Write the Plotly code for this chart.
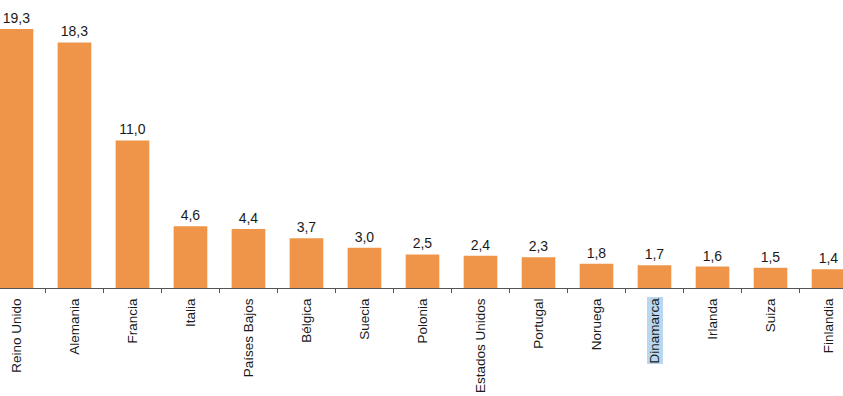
import plotly.graph_objects as go

categories = ["Reino Unido", "Alemania", "Francia", "Italia", "Países Bajos", "Bélgica",
              "Suecia", "Polonia", "Estados Unidos", "Portugal", "Noruega", "Dinamarca",
              "Irlanda", "Suiza", "Finlandia"]
values = [19.3, 18.3, 11.0, 4.6, 4.4, 3.7, 3.0, 2.5, 2.4, 2.3, 1.8, 1.7, 1.6, 1.5, 1.4]
highlighted = "Dinamarca"

labels = [f"{v:.1f}".replace(".", ",") for v in values]
ticktext = ["" if c == highlighted else c for c in categories]

fig = go.Figure(go.Bar(
    x=categories, y=values, text=labels, textposition="outside",
    textfont=dict(family="Liberation Sans, Arial", size=14, color="#1a1a1a"),
    marker=dict(color="#EE9549", line=dict(width=0)),
    width=0.58, cliponaxis=False,
))

fig.add_annotation(
    x=highlighted, y=0, xref="x", yref="y", text=highlighted, textangle=-90,
    showarrow=False, yanchor="top", xanchor="center", yshift=-8,
    font=dict(family="Liberation Sans, Arial", size=13.5, color="#1a1a1a"),
    bgcolor="#B9D7EE", borderpad=0,
)

fig.update_layout(
    width=843, height=396,
    margin=dict(l=0, r=0, t=0, b=108, autoexpand=False),
    plot_bgcolor="white", paper_bgcolor="white",
    showlegend=False,
    xaxis=dict(
        type="category", range=[-0.284, 14.25], automargin=False,
        tickmode="array", tickvals=categories, ticktext=ticktext,
        tickangle=-90, tickson="boundaries", ticks="outside", ticklen=4,
        ticklabelstandoff=4,
        tickcolor="#555555", showline=True, linecolor="#555555", linewidth=1,
        tickfont=dict(family="Liberation Sans, Arial", size=13.5, color="#1a1a1a"),
        showgrid=False, fixedrange=True,
    ),
    yaxis=dict(range=[0, 21.46], visible=False, showgrid=False, fixedrange=True,
               automargin=False),
)

fig.write_html(
    "out.html",
    config={"displayModeBar": False},
    post_script="document.body.style.margin='0';document.body.style.overflow='hidden';",
)
